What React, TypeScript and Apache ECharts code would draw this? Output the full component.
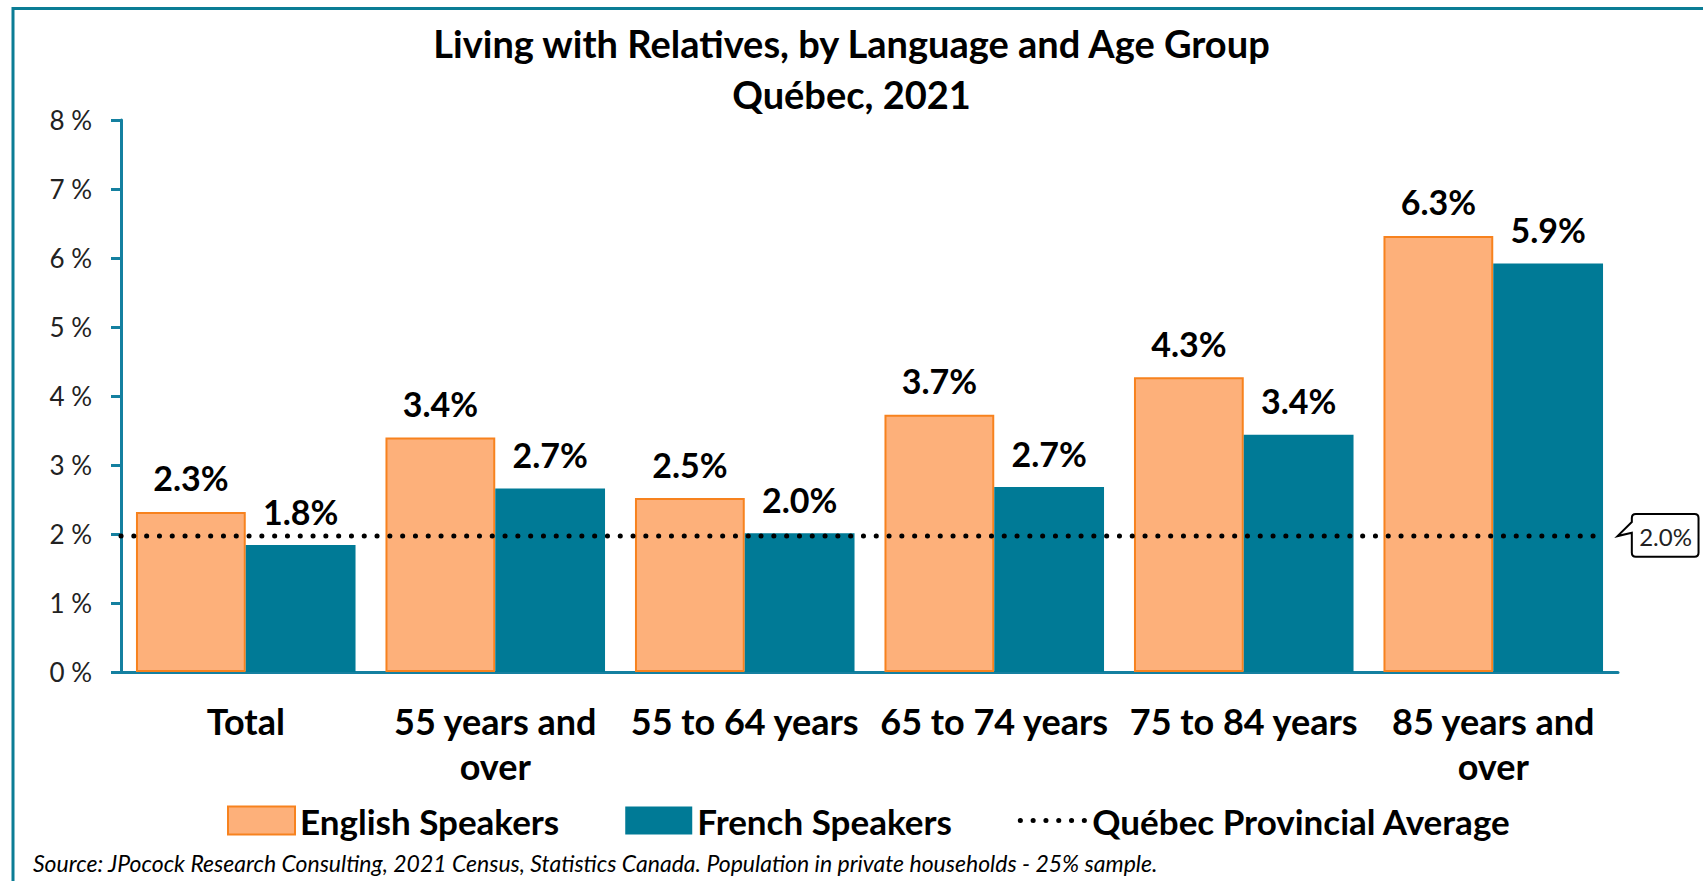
import React, { useEffect, useRef } from "react";
import * as echarts from "echarts";

const categories = [
  "Total",
  "55 years and over",
  "55 to 64 years",
  "65 to 74 years",
  "75 to 84 years",
  "85 years and over",
];
const englishSpeakers = [2.32, 3.4, 2.52, 3.73, 4.27, 6.32];
const frenchSpeakers = [1.84, 2.66, 2.01, 2.68, 3.44, 5.92];
const provincialAverage = 1.97;
const averageLineStart = 0;
const averageLineEnd = 5.95;
const yTicks = { min: 0, max: 8, interval: 1 };

const seriesNames = ["English Speakers", "French Speakers", "Québec Provincial Average"];
const titleText = "Living with Relatives, by Language and Age Group\nQuébec, 2021";
const sourceText =
  "Source: JPocock Research Consulting, 2021 Census, Statistics Canada. Population in private households - 25% sample.";

const FONT = "Lato, 'Open Sans', sans-serif";
const TEAL = "#007A96";
const AXIS = "#1480A0";
const ORANGE_FILL = "#FDB07A";
const ORANGE_LINE = "#F7821E";
const DOTTED = { color: "#000", width: 5, type: [0.1, 12.7], cap: "round" };

const calloutPath =
  "M 14.3 -14 L 0 0 L 14.3 -3.4 L 14.3 16.7 Q 14.3 20.7 18.3 20.7 L 77 20.7 Q 81 20.7 81 16.7 L 81 -18 Q 81 -22 77 -22 L 18.3 -22 Q 14.3 -22 14.3 -18 Z";

export default function App() {
  const ref = useRef<HTMLDivElement>(null);

  useEffect(() => {
    if (!ref.current) return;
    const chart = echarts.init(ref.current, null, { renderer: "svg" });
    const barLabel = {
      show: true,
      position: "top",
      distance: 17,
      formatter: (p: any) => `${Number(p.value).toFixed(1)}%`,
      fontFamily: FONT,
      fontWeight: "bold",
      fontSize: 34,
      color: "#000",
    };
    const baseGraphics = [
      {
        id: "frame",
        type: "rect",
        shape: { x: 13, y: 8.5, width: 1720, height: 900 },
        style: { fill: "none", stroke: "#0B7D95", lineWidth: 3 },
        silent: true,
      },
      {
        id: "source",
        type: "text",
        left: 33,
        top: 851,
        style: {
          text: sourceText,
          fontFamily: FONT,
          fontStyle: "italic",
          fontSize: 23,
          fill: "#000",
        },
      },
    ];
    chart.setOption({
      animation: false,
      backgroundColor: "#fff",
      title: {
        text: titleText,
        left: "center",
        top: 12,
        textStyle: {
          fontFamily: FONT,
          fontWeight: "bold",
          fontSize: 38,
          lineHeight: 51,
          color: "#000",
        },
      },
      legend: {
        data: [
          { name: seriesNames[0], icon: "rect" },
          { name: seriesNames[1], icon: "rect" },
          { name: seriesNames[2], itemStyle: { opacity: 0 }, lineStyle: DOTTED },
        ],
        top: 798,
        left: 222,
        itemWidth: 67,
        itemHeight: 28,
        itemGap: 66,
        textStyle: { fontFamily: FONT, fontWeight: "bold", fontSize: 35, color: "#000" },
        selectedMode: false,
      },
      grid: { left: 121, top: 120, width: 1497, height: 552 },
      xAxis: [
        {
          type: "category",
          data: categories,
          axisLine: { lineStyle: { color: AXIS, width: 3 } },
          axisTick: { show: false },
          axisLabel: {
            interval: 0,
            margin: 26,
            fontFamily: FONT,
            fontWeight: "bold",
            fontSize: 36,
            lineHeight: 45,
            color: "#000",
            formatter: (v: string) => v.replace(" and ", " and\n"),
          },
        },
        { type: "value", min: 0, max: categories.length, show: false },
      ],
      yAxis: {
        type: "value",
        min: yTicks.min,
        max: yTicks.max,
        interval: yTicks.interval,
        axisLine: { show: true, lineStyle: { color: AXIS, width: 3 } },
        axisTick: { show: true, length: 10, lineStyle: { color: AXIS, width: 3 } },
        splitLine: { show: false },
        axisLabel: {
          margin: 29,
          fontFamily: FONT,
          fontSize: 26,
          color: "#222",
          formatter: (v: number) => `${v} %`,
        },
      },
      series: [
        {
          name: seriesNames[0],
          type: "bar",
          data: englishSpeakers,
          barGap: "0%",
          barCategoryGap: "12%",
          itemStyle: { color: ORANGE_FILL, borderColor: ORANGE_LINE, borderWidth: 2 },
          label: barLabel,
        },
        {
          name: seriesNames[1],
          type: "bar",
          data: frenchSpeakers,
          barGap: "0%",
          barCategoryGap: "12%",
          itemStyle: { color: TEAL },
          label: barLabel,
        },
        {
          name: seriesNames[2],
          type: "line",
          xAxisIndex: 1,
          yAxisIndex: 0,
          data: [
            [averageLineStart, provincialAverage],
            [averageLineEnd, provincialAverage],
          ],
          symbol: "none",
          z: 5,
          silent: true,
          itemStyle: { color: "#000" },
          lineStyle: DOTTED,
        },
      ],
      graphic: baseGraphics,
    });

    const tip = chart.convertToPixel({ xAxisIndex: 1, yAxisIndex: 0 }, [
      averageLineEnd,
      provincialAverage,
    ]) as number[];
    echarts.graphic.registerShape("calloutShape", echarts.graphic.extendPath(calloutPath, {}));
    const tx = tip[0] + 12;
    const ty = tip[1];
    chart.setOption({
      graphic: [
        ...baseGraphics,
        {
          id: "callout",
          type: "calloutShape",
          x: tx,
          y: ty,
          style: { fill: "#fff", stroke: "#000", lineWidth: 2 },
          silent: true,
          z: 10,
        },
        {
          id: "calloutText",
          type: "text",
          x: tx + 48,
          y: ty,
          z: 11,
          style: {
            text: `${provincialAverage.toFixed(1)}%`,
            fontFamily: FONT,
            fontSize: 24,
            fill: "#222",
            align: "center",
            verticalAlign: "middle",
          },
        },
      ],
    });

    return () => chart.dispose();
  }, []);

  return (
    <div
      ref={ref}
      style={{ position: "fixed", left: 0, top: 0, width: 1703, height: 881, background: "#fff" }}
    />
  );
}
